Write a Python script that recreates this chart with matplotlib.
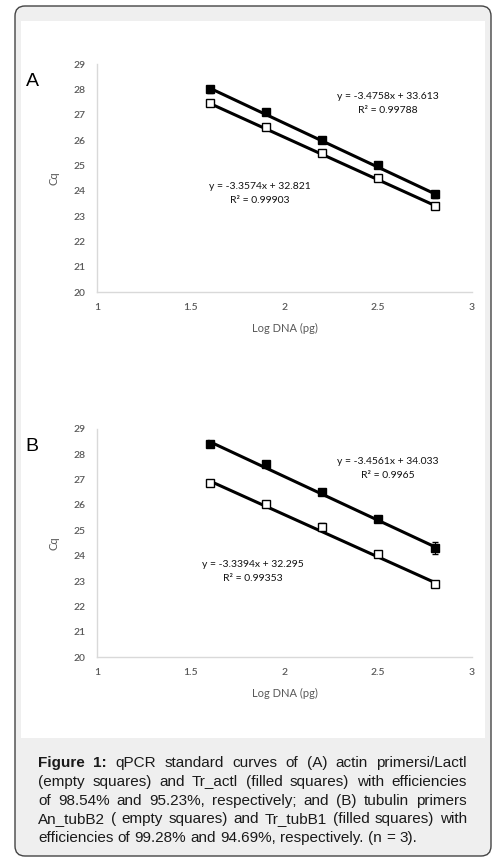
import matplotlib
matplotlib.use("Agg")
import matplotlib.pyplot as plt
import numpy as np
from matplotlib.patches import FancyBboxPatch, Rectangle

# ---------------- data ----------------
log_dna = [1.6, 1.9, 2.2, 2.5, 2.8]

a_filled = [28.0, 27.1, 26.0, 25.0, 23.85]
a_filled_err = [0.15, 0.05, 0.05, 0.05, 0.15]
a_empty = [27.45, 26.5, 25.5, 24.5, 23.4]
a_empty_err = [0.05, 0.05, 0.05, 0.05, 0.05]
a_fit_filled = (-3.4758, 33.613)
a_fit_empty = (-3.3574, 32.821)
a_eq_filled = ["y = -3.4758x + 33.613", "R\u00b2 = 0.99788"]
a_eq_empty = ["y = -3.3574x + 32.821", "R\u00b2 = 0.99903"]

b_filled = [28.4, 27.6, 26.5, 25.45, 24.3]
b_filled_err = [0.08, 0.08, 0.1, 0.1, 0.25]
b_empty = [26.85, 26.05, 25.15, 24.05, 22.9]
b_empty_err = [0.05, 0.1, 0.12, 0.05, 0.05]
b_fit_filled = (-3.4561, 34.033)
b_fit_empty = (-3.3394, 32.295)
b_eq_filled = ["y = -3.4561x + 34.033", "R\u00b2 = 0.9965"]
b_eq_empty = ["y = -3.3394x + 32.295", "R\u00b2 = 0.99353"]

x_ticks = [1, 1.5, 2, 2.5, 3]
x_tick_labels = ["1", "1.5", "2", "2.5", "3"]
y_ticks = list(range(20, 30))

caption_lines = [
    "qPCR standard curves of (A) actin primersi/Lactl",
    "(empty squares) and Tr_actl (filled squares) with efficiencies",
    "of 98.54% and 95.23%, respectively; and (B) tubulin primers",
    "An_tubB2 ( empty squares) and Tr_tubB1 (filled squares) with",
    "efficiencies of 99.28% and 94.69%, respectively. (n = 3).",
]
caption_bold = "Figure 1:"

# ---------------- figure ----------------
W, H = 500, 863
fig = plt.figure(figsize=(W / 100, H / 100), dpi=100)
fig.patch.set_facecolor("white")

def px(x, y):
    return x / W, 1 - y / H

# outer rounded gray box
box = FancyBboxPatch(px(15, 856), (491 - 15) / W, (856 - 6) / H,
                     boxstyle="round,pad=0,rounding_size=0.02",
                     transform=fig.transFigure, facecolor="#efefef",
                     edgecolor="#444444", linewidth=1.0, mutation_aspect=W / H,
                     zorder=-3)
fig.patches.append(box)
inner = Rectangle(px(21, 738), (485 - 21) / W, (738 - 21) / H,
                  transform=fig.transFigure, facecolor="white", edgecolor="none",
                  zorder=-2)
fig.patches.append(inner)

tick_font = "Lato"
tick_color = "#595959"

def make_panel(top_px, bottom_px, letter, filled, ferr, empty, eerr,
               fit_f, fit_e, eq_f, eq_e, eqf_pos, eqe_pos):
    l, b = px(97, bottom_px)
    r, t = px(472, top_px)
    ax = fig.add_axes([l, b, r - l, t - b])
    ax.set_facecolor("none")
    ax.set_xlim(1, 3)
    ax.set_ylim(20, 29)
    for s in ["top", "right"]:
        ax.spines[s].set_visible(False)
    for s in ["left", "bottom"]:
        ax.spines[s].set_color("#d9d9d9")
        ax.spines[s].set_linewidth(1.0)
    ax.set_xticks(x_ticks)
    ax.set_xticklabels(x_tick_labels)
    ax.set_yticks(y_ticks)
    ax.tick_params(length=0, labelsize=7.5, colors=tick_color, pad=8)
    for lab in ax.get_xticklabels() + ax.get_yticklabels():
        lab.set_fontfamily(tick_font)
        lab.set_fontweight("semibold")
    ax.set_xlabel("Log DNA (pg)", fontsize=8, color=tick_color,
                  fontfamily=tick_font, labelpad=8)
    ax.set_ylabel("Cq", fontsize=8, color=tick_color,
                  fontfamily=tick_font, labelpad=10)

    xs = np.array([log_dna[0], log_dna[-1]])
    ax.plot(xs, fit_f[0] * xs + fit_f[1], color="black", lw=2.2, zorder=2)
    ax.plot(xs, fit_e[0] * xs + fit_e[1], color="black", lw=2.2, zorder=2)

    ax.errorbar(log_dna, filled, yerr=ferr, fmt="s", ms=5.5, mfc="black",
                mec="black", ecolor="black", elinewidth=0.8, capsize=2.5,
                zorder=3)
    ax.errorbar(log_dna, empty, yerr=eerr, fmt="s", ms=5.5, mfc="white",
                mec="black", mew=1.0, ecolor="black", elinewidth=0.8,
                capsize=2.5, zorder=3)

    for (x, y), lines in [(eqf_pos, eq_f), (eqe_pos, eq_e)]:
        ax.text(x, y, lines[0], ha="center", va="center", fontsize=7.5,
                fontfamily=tick_font, color="#111111")
        ax.text(x, y - 0.55, lines[1], ha="center", va="center", fontsize=7.5,
                fontfamily=tick_font, color="#111111")

    fx, fy = px(32, (top_px + 17))
    fig.text(fx, fy, letter, fontsize=14, fontfamily="Liberation Sans",
             ha="center", va="center", color="black")
    return ax

make_panel(64, 292, "A", a_filled, a_filled_err, a_empty, a_empty_err,
           a_fit_filled, a_fit_empty, a_eq_filled, a_eq_empty,
           (2.55, 27.7), (1.87, 24.15))
make_panel(429, 657, "B", b_filled, b_filled_err, b_empty, b_empty_err,
           b_fit_filled, b_fit_empty, b_eq_filled, b_eq_empty,
           (2.55, 27.7), (1.83, 23.65))

# ---------------- caption (justified) ----------------
cap_fs = 11.0
cap_color = "#1a1a1a"
x_left, x_right = 38, 467
baselines = [766.5, 785.5, 804.5, 823.3, 842.0]

fig.canvas.draw()
renderer = fig.canvas.get_renderer()

def word_width(word, bold=False):
    t = fig.text(0, 0, word, fontsize=cap_fs, fontfamily="Liberation Sans",
                 fontweight="bold" if bold else "normal")
    w = t.get_window_extent(renderer).width
    t.remove()
    return w

for i, line in enumerate(caption_lines):
    words = line.split(" ")
    bolds = [False] * len(words)
    if i == 0:
        words = caption_bold.split(" ") + words
        bolds = [True, True] + bolds
    widths = [word_width(w, b) for w, b in zip(words, bolds)]
    space_w = word_width("a a") - word_width("aa")
    justify = i < len(caption_lines) - 1
    if justify and len(words) > 1:
        gap = (x_right - x_left - sum(widths)) / (len(words) - 1)
    else:
        gap = space_w
    xcur = x_left
    for w, b, wd in zip(words, bolds, widths):
        if w:
            fx, fy = px(xcur, baselines[i])
            fig.text(fx, fy, w, fontsize=cap_fs, fontfamily="Liberation Sans",
                     fontweight="bold" if b else "normal", color=cap_color,
                     ha="left", va="baseline")
        xcur += wd + gap

fig.savefig("out.png", dpi=100)
